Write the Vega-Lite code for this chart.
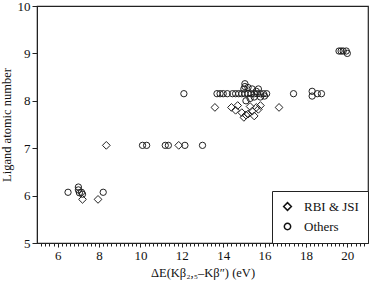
{
  "$schema": "https://vega.github.io/schema/vega-lite/v6.json",
  "width": 331,
  "height": 237,
  "autosize": "none",
  "padding": {"left": 37, "top": 6, "right": 2, "bottom": 40},
  "config": {
    "font": "Liberation Serif",
    "view": {"stroke": "#222", "strokeWidth": 1.2},
    "axis": {"grid": false, "domainColor": "#222", "tickColor": "#222", "labelColor": "#111", "titleColor": "#111", "labelFont": "Liberation Serif", "titleFont": "Liberation Serif", "labelFontSize": 13, "titleFontSize": 12.5, "titleFontWeight": "normal"},
    "legend": {"labelFont": "Liberation Serif", "labelFontSize": 13, "labelColor": "#111"}
  },
  "data": {"values": [
    {"dE": 7.2, "Z": 5.92, "g": "RBI & JSI"},
    {"dE": 7.95, "Z": 5.92, "g": "RBI & JSI"},
    {"dE": 8.35, "Z": 7.06, "g": "RBI & JSI"},
    {"dE": 11.85, "Z": 7.06, "g": "RBI & JSI"},
    {"dE": 13.6, "Z": 7.86, "g": "RBI & JSI"},
    {"dE": 14.4, "Z": 7.86, "g": "RBI & JSI"},
    {"dE": 14.6, "Z": 7.8, "g": "RBI & JSI"},
    {"dE": 14.9, "Z": 7.75, "g": "RBI & JSI"},
    {"dE": 15.1, "Z": 7.7, "g": "RBI & JSI"},
    {"dE": 15.0, "Z": 7.65, "g": "RBI & JSI"},
    {"dE": 15.2, "Z": 7.72, "g": "RBI & JSI"},
    {"dE": 15.4, "Z": 7.78, "g": "RBI & JSI"},
    {"dE": 15.6, "Z": 7.86, "g": "RBI & JSI"},
    {"dE": 15.7, "Z": 7.82, "g": "RBI & JSI"},
    {"dE": 15.3, "Z": 7.88, "g": "RBI & JSI"},
    {"dE": 15.5, "Z": 7.68, "g": "RBI & JSI"},
    {"dE": 14.7, "Z": 7.9, "g": "RBI & JSI"},
    {"dE": 15.8, "Z": 7.9, "g": "RBI & JSI"},
    {"dE": 16.7, "Z": 7.86, "g": "RBI & JSI"},
    {"dE": 6.5, "Z": 6.07, "g": "Others"},
    {"dE": 7.0, "Z": 6.18, "g": "Others"},
    {"dE": 7.0, "Z": 6.12, "g": "Others"},
    {"dE": 7.05, "Z": 6.06, "g": "Others"},
    {"dE": 7.15, "Z": 6.07, "g": "Others"},
    {"dE": 7.2, "Z": 6.03, "g": "Others"},
    {"dE": 8.2, "Z": 6.07, "g": "Others"},
    {"dE": 10.1, "Z": 7.06, "g": "Others"},
    {"dE": 10.3, "Z": 7.06, "g": "Others"},
    {"dE": 11.2, "Z": 7.06, "g": "Others"},
    {"dE": 11.35, "Z": 7.06, "g": "Others"},
    {"dE": 12.15, "Z": 7.06, "g": "Others"},
    {"dE": 13.0, "Z": 7.06, "g": "Others"},
    {"dE": 12.1, "Z": 8.15, "g": "Others"},
    {"dE": 13.7, "Z": 8.15, "g": "Others"},
    {"dE": 13.85, "Z": 8.15, "g": "Others"},
    {"dE": 14.0, "Z": 8.15, "g": "Others"},
    {"dE": 14.2, "Z": 8.15, "g": "Others"},
    {"dE": 14.45, "Z": 8.15, "g": "Others"},
    {"dE": 14.6, "Z": 8.15, "g": "Others"},
    {"dE": 14.75, "Z": 8.15, "g": "Others"},
    {"dE": 14.9, "Z": 8.15, "g": "Others"},
    {"dE": 15.05, "Z": 8.15, "g": "Others"},
    {"dE": 15.2, "Z": 8.15, "g": "Others"},
    {"dE": 15.35, "Z": 8.15, "g": "Others"},
    {"dE": 15.5, "Z": 8.15, "g": "Others"},
    {"dE": 15.65, "Z": 8.15, "g": "Others"},
    {"dE": 15.8, "Z": 8.15, "g": "Others"},
    {"dE": 15.95, "Z": 8.15, "g": "Others"},
    {"dE": 16.1, "Z": 8.15, "g": "Others"},
    {"dE": 15.05, "Z": 8.36, "g": "Others"},
    {"dE": 15.05, "Z": 8.3, "g": "Others"},
    {"dE": 15.0, "Z": 8.25, "g": "Others"},
    {"dE": 15.2, "Z": 8.28, "g": "Others"},
    {"dE": 15.4, "Z": 8.25, "g": "Others"},
    {"dE": 15.6, "Z": 8.2, "g": "Others"},
    {"dE": 15.3, "Z": 8.05, "g": "Others"},
    {"dE": 15.5, "Z": 8.08, "g": "Others"},
    {"dE": 15.8, "Z": 8.08, "g": "Others"},
    {"dE": 15.1, "Z": 8.0, "g": "Others"},
    {"dE": 16.0, "Z": 8.1, "g": "Others"},
    {"dE": 15.7, "Z": 8.25, "g": "Others"},
    {"dE": 17.4, "Z": 8.15, "g": "Others"},
    {"dE": 18.3, "Z": 8.2, "g": "Others"},
    {"dE": 18.3, "Z": 8.1, "g": "Others"},
    {"dE": 18.55, "Z": 8.15, "g": "Others"},
    {"dE": 18.75, "Z": 8.15, "g": "Others"},
    {"dE": 19.6, "Z": 9.05, "g": "Others"},
    {"dE": 19.7, "Z": 9.05, "g": "Others"},
    {"dE": 19.8, "Z": 9.05, "g": "Others"},
    {"dE": 19.95, "Z": 9.05, "g": "Others"},
    {"dE": 20.0, "Z": 9.0, "g": "Others"}
  ]},
  "layer": [
    {
      "mark": {"type": "point", "filled": false, "strokeWidth": 1, "opacity": 1},
      "encoding": {
        "x": {"field": "dE", "type": "quantitative", "scale": {"domain": [5, 21], "nice": false},
          "axis": {"values": [6, 8, 10, 12, 14, 16, 18, 20], "tickSize": 4, "labelPadding": 2, "labelFont": "Liberation Serif", "title": "ΔE(Kβ₂,₅–Kβ″) (eV)", "titlePadding": 4}},
        "y": {"field": "Z", "type": "quantitative", "scale": {"domain": [5, 10], "nice": false},
          "axis": {"values": [5, 6, 7, 8, 9, 10], "tickSize": 5, "labelPadding": 2, "labelFont": "Liberation Serif", "title": "Ligand atomic number", "titlePadding": 4}},
        "shape": {"field": "g", "type": "nominal", "sort": ["RBI & JSI", "Others"],
          "scale": {"domain": ["RBI & JSI", "Others"], "range": ["diamond", "circle"]},
          "legend": {"title": null, "orient": "bottom-right", "offset": 0, "strokeColor": "#222", "fillColor": "white", "padding": 9, "rowPadding": 6, "symbolStrokeColor": "#111", "symbolFillColor": "transparent", "labelOffset": 10}},
        "size": {"field": "g", "type": "nominal", "sort": ["RBI & JSI", "Others"],
          "scale": {"domain": ["RBI & JSI", "Others"], "range": [60, 40]},
          "legend": {"title": null, "orient": "bottom-right", "offset": 0, "strokeColor": "#222", "fillColor": "white", "padding": 9, "rowPadding": 6, "symbolStrokeColor": "#111", "symbolFillColor": "transparent", "labelOffset": 10}},
        "stroke": {"value": "#222"}
      }
    },
    {
      "mark": {"type": "point", "opacity": 0},
      "encoding": {
        "x": {"field": "dE", "type": "quantitative", "scale": {"domain": [5, 21], "nice": false},
          "axis": {"values": [5.2, 5.4, 5.6, 5.8, 6.2, 6.4, 6.6, 6.8, 7, 7.2, 7.4, 7.6, 7.8, 8.2, 8.4, 8.6, 8.8, 9, 9.2, 9.4, 9.6, 9.8, 10.2, 10.4, 10.6, 10.8, 11, 11.2, 11.4, 11.6, 11.8, 12.2, 12.4, 12.6, 12.8, 13, 13.2, 13.4, 13.6, 13.8, 14.2, 14.4, 14.6, 14.8, 15, 15.2, 15.4, 15.6, 15.8, 16.2, 16.4, 16.6, 16.8, 17, 17.2, 17.4, 17.6, 17.8, 18.2, 18.4, 18.6, 18.8, 19, 19.2, 19.4, 19.6, 19.8, 20.2, 20.4, 20.6, 20.8], "tickSize": 3, "labels": false, "domain": false, "title": null, "orient": "bottom"}},
        "y": {"field": "Z", "type": "quantitative", "scale": {"domain": [5, 10], "nice": false}, "axis": null}
      }
    }
  ],
  "resolve": {"axis": {"x": "independent", "y": "independent"}}
}
